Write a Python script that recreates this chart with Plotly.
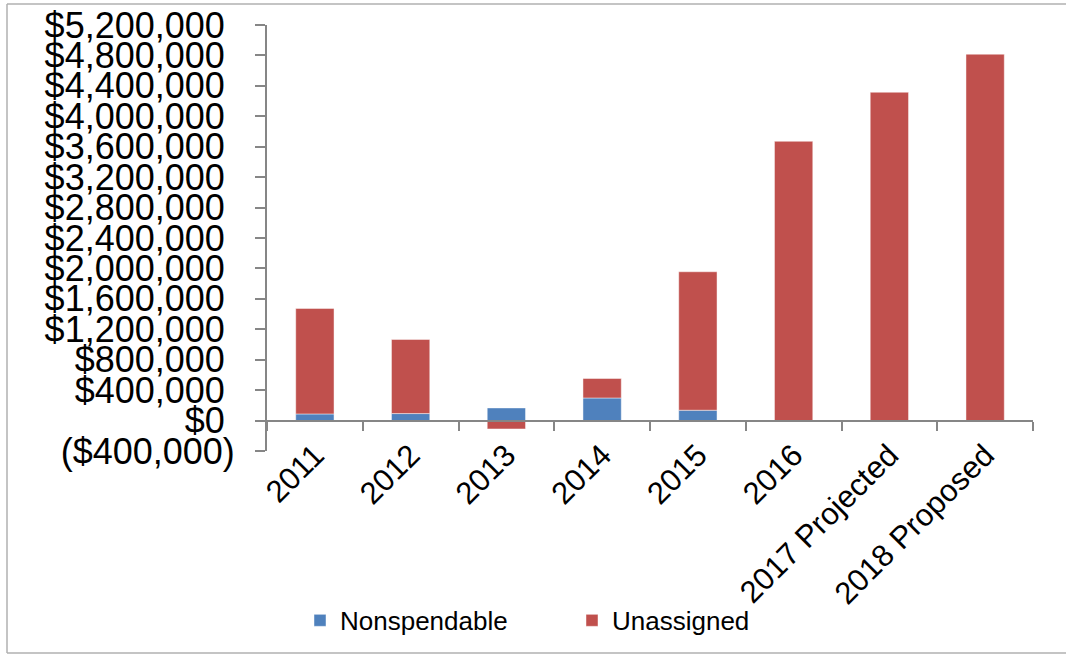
import plotly.graph_objects as go

categories = ["2011", "2012", "2013", "2014", "2015", "2016", "2017 Projected", "2018 Proposed"]
nonspendable = [87000, 92000, 166000, 297000, 136000, 0, 0, 0]
unassigned = [1387000, 974000, -110000, 256000, 1820000, 3671000, 4316000, 4816000]

y_tickvals = list(range(-400000, 5200001, 400000))
y_ticktext = [("(${:,})".format(-v) if v < 0 else "${:,}\u00a0".format(v)) for v in y_tickvals]

BLUE = "#4F81BD"
RED = "#C0504D"
AXIS = "#868686"
FONT = "Liberation Sans, Arial, sans-serif"

fig = go.Figure()
fig.add_trace(go.Bar(
    x=categories, y=nonspendable, name="Nonspendable",
    marker=dict(color=BLUE, line=dict(color="rgba(255,255,255,0.45)", width=1)),
))
fig.add_trace(go.Bar(
    x=categories, y=unassigned, name="Unassigned",
    marker=dict(color=RED, line=dict(color="rgba(255,255,255,0.45)", width=1)),
))

W, H = 1067, 654
left, right, top, bottom = 267, 1033, 25, 450.7  # plot area in screen px
ml, mt = left, top
mr = W - right
mb = H - bottom
pw = right - left
ph = bottom - top

def px_x(x):
    return (x - left) / pw

def px_y(y):
    return (bottom - y) / ph

BORDER = dict(color="#b0b0b0", width=1.5)
bx0, bx1, by0, by1 = px_x(7), px_x(1066), px_y(652.5), px_y(4)
border_shapes = [
    dict(type="line", xref="paper", yref="paper", x0=bx0, x1=bx0, y0=by0, y1=by1, line=BORDER, layer="below"),
    dict(type="line", xref="paper", yref="paper", x0=bx0, x1=bx1, y0=by1, y1=by1, line=BORDER, layer="below"),
    dict(type="line", xref="paper", yref="paper", x0=bx0, x1=bx1, y0=by0, y1=by0, line=BORDER, layer="below"),
]

fig.update_layout(
    width=W, height=H,
    margin=dict(l=ml, r=mr, t=mt, b=mb, pad=0, autoexpand=False),
    paper_bgcolor="white", plot_bgcolor="white",
    barmode="relative", bargap=0.6,
    font=dict(family=FONT, color="black"),
    xaxis=dict(
        type="category", categoryorder="array", categoryarray=categories,
        range=[-0.5, 7.5], automargin=False,
        anchor="free", position=400000 / 5600000,
        showline=True, linecolor=AXIS, linewidth=2,
        ticks="outside", tickson="boundaries", ticklen=9, tickwidth=2, tickcolor=AXIS,
        tickangle=-45, tickfont=dict(size=31, family=FONT, color="black"),
        ticklabelstandoff=3, ticklabeloverflow="allow",
        showgrid=False, zeroline=False,
    ),
    yaxis=dict(
        range=[-400000, 5200000], automargin=False,
        tickvals=y_tickvals, ticktext=y_ticktext,
        showline=True, linecolor=AXIS, linewidth=2,
        ticks="outside", ticklen=10, tickwidth=2, tickcolor=AXIS,
        tickfont=dict(size=36, family=FONT, color="black"),
        ticklabelstandoff=13, ticklabeloverflow="allow",
        showgrid=False, zeroline=False,
    ),
    legend=dict(
        orientation="h", x=px_x(300), xanchor="left", y=px_y(620), yanchor="middle",
        font=dict(size=26, family=FONT, color="black"),
        entrywidth=227, entrywidthmode="pixels",
        bgcolor="rgba(0,0,0,0)", itemclick=False,
    ),
    shapes=border_shapes,
)

fig.write_html(
    "out.html",
    config={"displayModeBar": False},
    post_script="document.body.style.margin='0';",
)
